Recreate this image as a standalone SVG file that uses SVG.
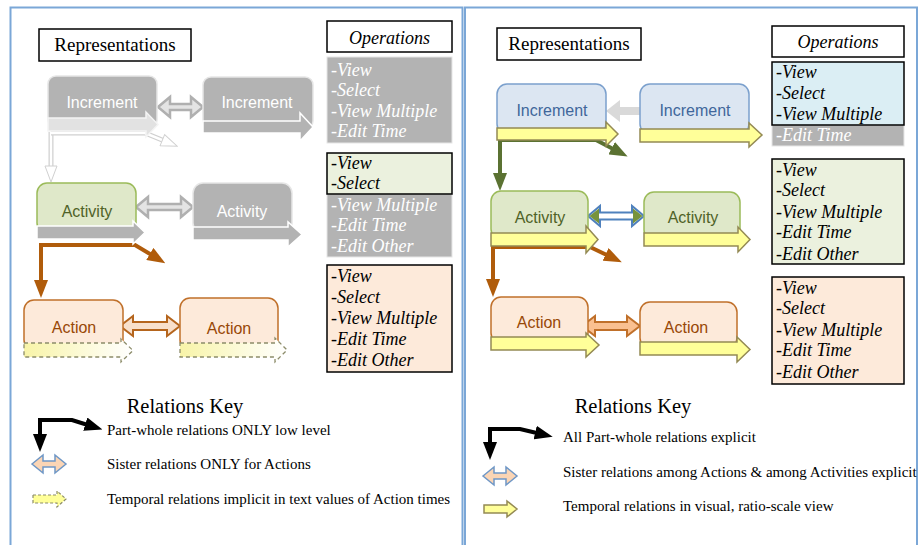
<svg xmlns="http://www.w3.org/2000/svg" width="919" height="545" viewBox="0 0 919 545">
<defs>
<style>
.panel{fill:#fff;stroke:#7ba7d7;stroke-width:2}
.lbl{font-family:"Liberation Serif",serif;fill:#000}
.ops{font-family:"Liberation Serif",serif;font-style:italic;font-size:18px}
.nt{font-family:"Liberation Sans",Arial,sans-serif;font-size:16px;text-anchor:middle}
.gray{fill:#b3b3b3;stroke:#e6e6e6;stroke-width:1.5}
.grayband{fill:#b3b3b3;stroke:#fff;stroke-width:1.5}
.blue{fill:#dce6f2;stroke:#7ba0cd;stroke-width:1.5}
.green{fill:#dfe8c9;stroke:#9bbb59;stroke-width:1.5}
.orange{fill:#fdeada;stroke:#c0702a;stroke-width:1.5}
.yband{fill:#ffff99;stroke:#948a54;stroke-width:1.5}
.dband{fill:url(#dg);stroke:#8c8c6a;stroke-width:1.3;stroke-dasharray:4 3}
.box{stroke:#000;stroke-width:1.5}
.brown{fill:none;stroke:#b05c0b;stroke-width:4}
.olive{fill:none;stroke:#5b7232;stroke-width:4}
.blk{fill:none;stroke:#000;stroke-width:4}
.key{font-family:"Liberation Serif",serif;font-size:15px;fill:#000}
</style>
<linearGradient id="dg" x1="0" y1="0" x2="1" y2="0">
<stop offset="0" stop-color="#f8f4a8"/><stop offset="1" stop-color="#ffffff"/>
</linearGradient>
<marker id="mBrown" viewBox="0 0 18 14" markerWidth="18" markerHeight="14" markerUnits="userSpaceOnUse" refX="6" refY="7" orient="auto"><path d="M0,0 L18,7 L0,14 z" fill="#b05c0b"/></marker>
<marker id="mOlive" viewBox="0 0 18 14" markerWidth="18" markerHeight="14" markerUnits="userSpaceOnUse" refX="6" refY="7" orient="auto"><path d="M0,0 L18,7 L0,14 z" fill="#5b7232"/></marker>
<marker id="mBlack" viewBox="0 0 18 14" markerWidth="18" markerHeight="14" markerUnits="userSpaceOnUse" refX="6" refY="7" orient="auto"><path d="M0,0 L18,7 L0,14 z" fill="#000"/></marker>
<marker id="mLight" viewBox="0 0 18 14" markerWidth="18" markerHeight="14" markerUnits="userSpaceOnUse" refX="6" refY="7" orient="auto"><path d="M1,1 L17,7 L1,13 z" fill="#fff" stroke="#d0d0d0" stroke-width="1"/></marker>
</defs>
<rect width="919" height="545" fill="#fff"/>
<rect class="panel" x="10.5" y="7.5" width="452" height="560"/>
<rect class="panel" x="465" y="7.5" width="452" height="560"/>

<g id="connectors">
<path d="M51,132 L51,171" fill="none" stroke="#d0d0d0" stroke-width="5"/>
<path d="M51,132 L51,171" fill="none" stroke="#fff" stroke-width="2.5" marker-end="url(#mLight)"/>
<path d="M51,133 L145,133 L167,142" fill="none" stroke="#d0d0d0" stroke-width="5"/>
<path d="M51,133 L145,133 L167,142" fill="none" stroke="#fff" stroke-width="2.5" marker-end="url(#mLight)"/>
<polygon points="158,107 170,97 170,104 191,104 191,97 203,107 191,117 191,110 170,110 170,117" fill="#e4e4e4" stroke="#b0b0b0" stroke-width="2.5"/>
<polygon points="136,207 148,197 148,204 181,204 181,197 193,207 181,217 181,210 148,210 148,217" fill="#e4e4e4" stroke="#b0b0b0" stroke-width="2.5"/>
<path class="brown" d="M41,245 L41,286" marker-end="url(#mBrown)"/>
<path class="brown" d="M39,245 L135,245 L155,257" marker-end="url(#mBrown)"/>
<polygon points="120,326 133,316 133,322 167,322 167,316 180,326 167,336 167,330 133,330 133,336" fill="#f8e0cc" stroke="#b5651d" stroke-width="2"/>
<polygon points="606,111 620,100 620,107 652,107 652,115 620,115 620,122" fill="#d9d9d9"/>
<polygon points="588,216 600,206 600,212.5 632,212.5 632,206 644,216 632,226 632,219.5 600,219.5 600,226" fill="#fff" stroke="#4f81bd" stroke-width="2"/>
<polygon points="589.5,216 599,208.5 599,223.5" fill="#77933c"/>
<polygon points="642.5,216 633,208.5 633,223.5" fill="#77933c"/>
<path class="olive" d="M500,138 L500,179" marker-end="url(#mOlive)"/>
<path class="olive" d="M498,140 L596,140 L617,151" marker-end="url(#mOlive)"/>
<path class="brown" d="M493,246 L493,285" marker-end="url(#mBrown)"/>
<path class="brown" d="M491,247 L590,247 L611,257" marker-end="url(#mBrown)"/>
<polygon points="582,326 595,316 595,322 627,322 627,316 640,326 627,336 627,330 595,330 595,336" fill="#fac090" stroke="#c0702a" stroke-width="2"/>
</g>

<g id="rep-left">
<rect class="box" x="39" y="29" width="152" height="32" fill="#fff"/>
<text class="lbl" x="115" y="51" font-size="19" text-anchor="middle">Representations</text>
</g>
<g id="inc-left-1">
<rect class="gray" x="48" y="76" width="109" height="52" rx="8"/>
<text class="nt" x="102" y="108" fill="#fff">Increment</text>
<polygon points="48,118 146,118 146,112 158,124.5 146,137 146,131 48,131" fill="#e2e2e2" stroke="#f4f4f4" stroke-width="1.5"/>
</g>
<g id="inc-left-2">
<rect class="gray" x="203" y="77" width="110" height="52" rx="8"/>
<text class="nt" x="257" y="108" fill="#fff">Increment</text>
<polygon class="grayband" points="203,121 300,121 300,113 313,127 300,141 300,133 203,133"/>
</g>
<g id="act-left-1">
<rect class="green" x="37" y="183" width="99" height="50" rx="10"/>
<text class="nt" x="87" y="217" fill="#4f6228">Activity</text>
<polygon class="grayband" points="37,226 133,226 133,221 145,232.5 133,244 133,239 37,239"/>
</g>
<g id="act-left-2">
<rect class="gray" x="193" y="183" width="99" height="50" rx="10"/>
<text class="nt" x="242" y="217" fill="#fff">Activity</text>
<polygon class="grayband" points="193,227 288,227 288,222 302,234.5 288,247 288,240 193,240"/>
</g>
<g id="action-left-1">
<rect class="orange" x="24" y="300" width="99" height="50" rx="10"/>
<text class="nt" x="74" y="333" fill="#984807">Action</text>
<polygon class="dband" points="24,343 121,343 121,339 133,350.5 121,362 121,357 24,357"/>
</g>
<g id="action-left-2">
<rect class="orange" x="180" y="298" width="98" height="52" rx="10"/>
<text class="nt" x="229" y="334" fill="#984807">Action</text>
<polygon class="dband" points="180,343 275,343 275,338 287,350 275,362 275,357 180,357"/>
</g>

<g id="ops-left">
<rect class="box" x="327" y="21" width="125" height="31" fill="#fff"/>
<text class="ops" x="389.5" y="44" text-anchor="middle">Operations</text>
<rect x="327" y="57" width="125" height="86" fill="#b3b3b3" stroke="#e6e6e6" stroke-width="1"/>
<g class="ops" fill="#fff"><text x="331" y="76">-View</text><text x="331" y="96">-Select</text><text x="331" y="117">-View Multiple</text><text x="331" y="137">-Edit Time</text></g>
<rect x="327" y="194" width="125" height="63" fill="#b3b3b3" stroke="#e6e6e6" stroke-width="1"/>
<rect class="box" x="327" y="153" width="125" height="41" fill="#ebf1de"/>
<g class="ops"><text x="331" y="169">-View</text><text x="331" y="189">-Select</text></g>
<g class="ops" fill="#fff"><text x="331" y="211">-View Multiple</text><text x="331" y="231">-Edit Time</text><text x="331" y="252">-Edit Other</text></g>
<rect class="box" x="327" y="265" width="125" height="107" fill="#fdeada"/>
<g class="ops"><text x="331" y="282">-View</text><text x="331" y="303">-Select</text><text x="331" y="324">-View Multiple</text><text x="331" y="345">-Edit Time</text><text x="331" y="366">-Edit Other</text></g>
</g>

<g id="rep-right">
<rect class="box" x="497" y="28" width="144" height="32" fill="#fff"/>
<text class="lbl" x="569" y="50" font-size="19" text-anchor="middle">Representations</text>
</g>
<g id="inc-right-1">
<rect class="blue" x="497" y="84" width="109" height="50" rx="10"/>
<text class="nt" x="552" y="116" fill="#41669b">Increment</text>
<polygon class="yband" points="497,128 606,128 606,122 618,134 606,146 606,140 497,140"/>
</g>
<g id="inc-right-2">
<rect class="blue" x="640" y="84" width="109" height="50" rx="10"/>
<text class="nt" x="695" y="116" fill="#41669b">Increment</text>
<polygon class="yband" points="640,129 749,129 749,123 762,135 749,147 749,142 640,142"/>
</g>
<g id="act-right-1">
<rect class="green" x="491" y="191" width="97" height="48" rx="10"/>
<text class="nt" x="540" y="223" fill="#4f6228">Activity</text>
<polygon class="yband" points="491,233 586,233 586,226 598,239.5 586,253 586,246 491,246"/>
</g>
<g id="act-right-2">
<rect class="green" x="644" y="192" width="96" height="48" rx="10"/>
<text class="nt" x="693" y="223" fill="#4f6228">Activity</text>
<polygon class="yband" points="644,233 738,233 738,227 750,239.5 738,252 738,246 644,246"/>
</g>
<g id="action-right-1">
<rect class="orange" x="491" y="297" width="97" height="46" rx="10"/>
<text class="nt" x="539" y="328" fill="#984807">Action</text>
<polygon class="yband" points="491,337 586,337 586,333 599,345 586,357 586,350 491,350"/>
</g>
<g id="action-right-2">
<rect class="orange" x="640" y="302" width="97" height="46" rx="10"/>
<text class="nt" x="686" y="333" fill="#984807">Action</text>
<polygon class="yband" points="640,342 737,342 737,337 750,349.5 737,362 737,355 640,355"/>
</g>

<g id="ops-right">
<rect class="box" x="772" y="26" width="132" height="31" fill="#fff"/>
<text class="ops" x="838" y="48" text-anchor="middle">Operations</text>
<rect x="772" y="125" width="132" height="21" fill="#b3b3b3" stroke="#e6e6e6" stroke-width="1"/>
<text class="ops" x="776" y="141" fill="#fff">-Edit Time</text>
<rect class="box" x="772" y="62" width="132" height="63" fill="#dbeef4"/>
<g class="ops"><text x="776" y="78">-View</text><text x="776" y="99">-Select</text><text x="776" y="120">-View Multiple</text></g>
<rect class="box" x="772" y="159" width="132" height="105" fill="#ebf1de"/>
<g class="ops"><text x="776" y="176">-View</text><text x="776" y="196">-Select</text><text x="776" y="218">-View Multiple</text><text x="776" y="238">-Edit Time</text><text x="776" y="260">-Edit Other</text></g>
<rect class="box" x="772" y="277" width="132" height="107" fill="#fdeada"/>
<g class="ops"><text x="776" y="294">-View</text><text x="776" y="314">-Select</text><text x="776" y="336">-View Multiple</text><text x="776" y="356">-Edit Time</text><text x="776" y="378">-Edit Other</text></g>
</g>

<g id="key-left">
<text class="lbl" x="185" y="413" font-size="20.5" text-anchor="middle">Relations Key</text>
<path class="blk" d="M40,420 L40,440" marker-end="url(#mBlack)"/>
<path class="blk" d="M38,420 L72,420 L91,426" marker-end="url(#mBlack)"/>
<text class="key" x="107" y="435">Part-whole relations ONLY low level</text>
<polygon points="32,464 43,455 43,461 55,461 55,455 66,464 55,473 55,467 43,467 43,473" fill="#fbd5b5" stroke="#6f97c6" stroke-width="1.5"/>
<text class="key" x="107" y="469">Sister relations ONLY for Actions</text>
<polygon points="33,495 57,495 57,491 66,499 57,507 57,503 33,503" fill="#ffff99" stroke="#8c8c6a" stroke-width="1.2" stroke-dasharray="3 2"/>
<text class="key" x="107" y="504">Temporal relations implicit in text values of Action times</text>
</g>
<g id="key-right">
<text class="lbl" x="633" y="413" font-size="20.5" text-anchor="middle">Relations Key</text>
<path class="blk" d="M490,429 L490,448" marker-end="url(#mBlack)"/>
<path class="blk" d="M488,429 L520,429 L541,434" marker-end="url(#mBlack)"/>
<text class="key" x="563" y="442">All Part-whole relations explicit</text>
<polygon points="483,476 494,467 494,473 506,473 506,467 517,476 506,485 506,479 494,479 494,485" fill="#fbd5b5" stroke="#6f97c6" stroke-width="1.5"/>
<text class="key" x="563" y="477">Sister relations among Actions &amp; among Activities explicit</text>
<polygon points="484,505 507,505 507,501 517,509 507,517 507,513 484,513" fill="#ffff99" stroke="#948a54" stroke-width="1.5"/>
<text class="key" x="563" y="511">Temporal relations in visual, ratio-scale view</text>
</g>
</svg>
